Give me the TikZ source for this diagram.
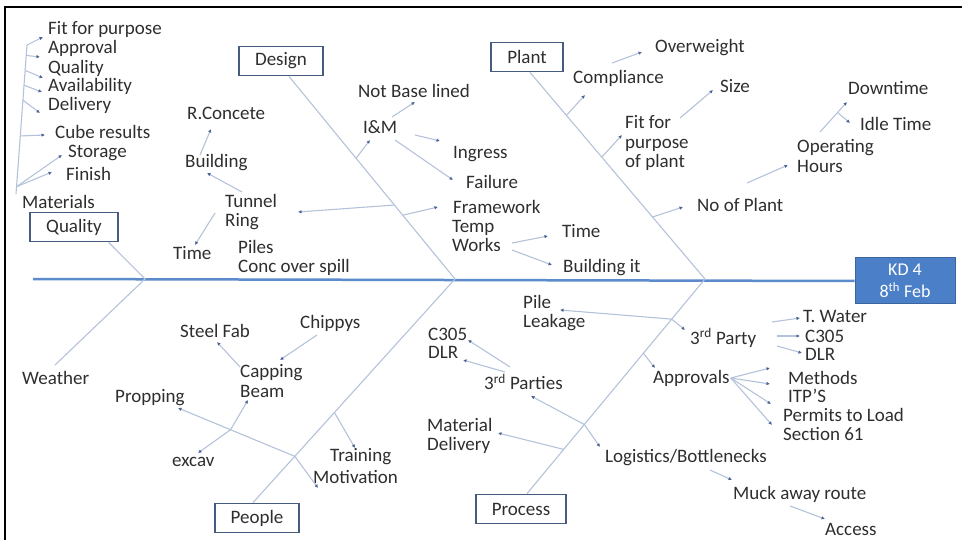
\documentclass[tikz,border=0pt]{standalone}
\usepackage{fontspec}
\setmainfont{Carlito}
\usetikzlibrary{arrows.meta}

\definecolor{bonecol}{HTML}{B4C2DA}
\definecolor{spinecol}{HTML}{5B8BCB}
\definecolor{boxcol}{HTML}{455C80}
\definecolor{tipcol}{HTML}{4A6296}
\definecolor{kdcol}{HTML}{4B7FC7}
\definecolor{txtcol}{HTML}{2E2E2E}

\tikzset{
  lbl/.style={anchor=west, text=txtcol, inner sep=1pt, font=\fontsize{19}{19.5}\selectfont},
  multi/.style={lbl, align=left},
  cat/.style={lbl, anchor=center, draw=boxcol, line width=1.8pt, inner xsep=16pt, minimum height=29pt},
  kdbox/.style={lbl, anchor=center, align=center, text=white, fill=kdcol, draw=kdcol!80!black,
    line width=1pt, minimum width=100pt, minimum height=46pt, font=\fontsize{18}{22}\selectfont},
  bone/.style={draw=bonecol, line width=1.1pt},
  sub/.style={bone, -{Latex[length=3.5pt, width=3.5pt, color=tipcol]}},
  spine/.style={draw=spinecol, line width=2.5pt},
}

\begin{document}
\begin{tikzpicture}[x=1pt, y=-1pt]
\useasboundingbox (0,0) rectangle (962,540);
\draw[line width=2pt] (5,540) -- (5,7) -- (962,7);

% head and spine
\node[kdbox] (kd) at (905,281) {KD 4\\8\textsuperscript{th} Feb};
\coordinate (q0) at (145,279);
\coordinate (d0) at (455,279);
\coordinate (p0) at (705,279);
\draw[spine] (33,279) -- (kd.west);

% Quality
\node[cat] (quality) at (74,227) {Quality};
\node[lbl] (weather) at (21,378) {Weather};
\node[lbl] (mat) at (21,202) {Materials};
\node[lbl] (fitp) at (47,29) {Fit for purpose};
\node[lbl] (appr) at (47,48) {Approval};
\node[lbl] (qlty) at (47,68) {Quality};
\node[lbl] (avail) at (47,86) {Availability};
\node[lbl] (deliv) at (47,105) {Delivery};
\node[lbl] (cube) at (54,132) {Cube results};
\node[lbl] (stor) at (67,153) {Storage};
\node[lbl] (fin) at (65,174) {Finish};

\draw[bone] ([xshift=-10pt]quality.south east) -- (q0) -- ([shift={(34,-13)}]weather.west);
\draw[bone] ([xshift=-5pt]mat.north west) coordinate (mt0) -- (27,45) coordinate (mt1)
  coordinate[pos=0.93] (mq1) coordinate[pos=0.83] (mq2) coordinate[pos=0.73] (mq3)
  coordinate[pos=0.63] (mq4) coordinate[pos=0.39] (mq5) coordinate[pos=0.05] (mq6);
\draw[sub] (mt1) -- ([shift={(-4,8)}]fitp.west);
\draw[sub] (mq1) -- ([shift={(-7,9)}]appr.west);
\draw[sub] (mq2) -- ([shift={(-4,10)}]qlty.west);
\draw[sub] (mq3) -- ([shift={(-5,6)}]avail.west);
\draw[sub] (mq4) -- ([shift={(-7,8)}]deliv.west);
\draw[sub] (mq5) -- ([shift={(-9,3)}]cube.west);
\draw[sub] (mq6) -- ([shift={(-5,2)}]stor.west);
\draw[sub] (mq6) -- ([shift={(-13,-2)}]fin.west);

% Design
\node[cat] (design) at (281,61) {Design};
\node[lbl] (im) at (362,127) {I\&M};
\node[lbl] (nbl) at (357,91) {Not Base lined};
\node[lbl] (ingr) at (452,154) {Ingress};
\node[lbl] (fail) at (465,182) {Failure};
\node[lbl] (frame) at (452,207) {Framework};
\node[multi] (tw) at (451,236) {Temp\\Works};
\node[lbl] (time2) at (561,231) {Time};
\node[lbl] (bit) at (562,268) {Building it};
\node[multi] (tun) at (224,212) {Tunnel\\Ring};
\node[lbl] (bldg) at (184,163) {Building};
\node[lbl] (rc) at (186,113) {R.Concete};
\node[lbl] (time1) at (172,253) {Time};
\node[multi] (piles) at (237,258) {Piles\\Conc over spill};

\draw[bone] ([xshift=8pt]design.south) -- (d0)
  coordinate[pos=0.404] (dim) coordinate[pos=0.635] (dtun) coordinate[pos=0.685] (dfw);
\draw[sub] (dim) -- ([shift={(8,13)}]im.west);
\draw[sub] ([shift={(30,-10)}]im.west) -- ([shift={(58,11)}]nbl.west);
\draw[sub] ([shift={(53,8)}]im.west) -- ([shift={(-12,-13)}]ingr.west);
\draw[sub] ([shift={(33,13)}]im.west) -- ([shift={(-12,-2)}]fail.west);
\draw[sub] (dtun) -- ([shift={(74,0)}]tun.west);
\draw[sub] (dfw) -- ([shift={(-14,0)}]frame.west);
\draw[sub] ([shift={(18,-20)}]tun.west) -- ([shift={(23,10)}]bldg.west);
\draw[sub] ([shift={(16,-8)}]bldg.west) -- ([shift={(25,16)}]rc.west);
\draw[sub] ([shift={(-9,1)}]tun.west) -- ([shift={(23,-8)}]time1.west);
\draw[sub] ([shift={(61,7)}]tw.west) -- ([shift={(-13,5)}]time2.west);
\draw[sub] ([shift={(61,14)}]tw.west) -- ([shift={(-10,-3)}]bit.west);

% Plant
\node[cat] (plant) at (527,57) {Plant};
\node[lbl] (comp) at (572,78) {Compliance};
\node[lbl] (ow) at (654,48) {Overweight};
\node[multi] (ffp) at (624,143) {Fit for\\purpose\\of plant};
\node[lbl] (size) at (719,86) {Size};
\node[lbl] (nop) at (696,205) {No of Plant};
\node[multi] (oh) at (796,156) {Operating\\Hours};
\node[lbl] (dt) at (847,88) {Downtime};
\node[lbl] (idle) at (859,124) {Idle Time};

\draw[bone] ([xshift=3pt]plant.south) -- (p0)
  coordinate[pos=0.208] (pcomp) coordinate[pos=0.41] (pfit) coordinate[pos=0.70] (pnop);
\draw[sub] (pcomp) -- ([shift={(13,17)}]comp.west);
\draw[sub] ([shift={(40,-15)}]comp.west) -- ([shift={(-12,4)}]ow.west);
\draw[sub] (pfit) -- ([shift={(-2,-8)}]ffp.west);
\draw[sub] ([shift={(56,-25)}]ffp.west) -- ([shift={(-6,4)}]size.west);
\draw[sub] (pnop) -- ([shift={(-13,2)}]nop.west);
\draw[sub] ([shift={(51,-22)}]nop.west) -- ([shift={(-8,9)}]oh.west);
\draw[sub] ([shift={(24,-24)}]oh.west) -- ([shift={(0,14)}]dt.west) coordinate[pos=0.65] (ohs);
\draw[sub] (ohs) -- ([shift={(-9,-1)}]idle.west);

% Process
\node[cat] (process) at (521,509) {Process};
\node[multi] (pile) at (522,313) {Pile\\Leakage};
\node[lbl] (tp) at (689,338) {3\textsuperscript{rd} Party};
\node[lbl] (twat) at (802,316) {T. Water};
\node[lbl] (c305a) at (804,336) {C305};
\node[lbl] (dlra) at (804,354) {DLR};
\node[lbl] (appv) at (652,378) {Approvals};
\node[lbl] (meth) at (787,378) {Methods};
\node[lbl] (itps) at (787,396) {ITP'S};
\node[lbl] (perm) at (782,415) {Permits to Load};
\node[lbl] (sec) at (782,434) {Section 61};
\node[lbl] (tps) at (483,382) {3\textsuperscript{rd} Parties};
\node[lbl] (c305b) at (427,334) {C305};
\node[lbl] (dlrb) at (427,352) {DLR};
\node[multi] (md) at (426,436) {Material\\Delivery};
\node[lbl] (log) at (604,458) {Logistics/Bottlenecks};
\node[lbl] (muck) at (732,494) {Muck away route};
\node[lbl] (acc) at (824,529) {Access};

\draw[bone] ([xshift=6pt]process.north) -- (p0)
  coordinate[pos=0.813] (ppile) coordinate[pos=0.654] (pappr)
  coordinate[pos=0.322] (pcross) coordinate[pos=0.206] (pmd);
\draw[sub] (ppile) -- ([shift={(38,-3)}]pile.west);
\draw[sub] (ppile) -- ([shift={(-4,-8)}]tp.west);
\draw[sub] ([shift={(83,-16)}]tp.west) -- ([shift={(-2,2)}]twat.west);
\draw[sub] ([shift={(88,-2)}]tp.west) -- ([shift={(-4,0)}]c305a.west);
\draw[sub] ([shift={(88,8)}]tp.west) -- ([shift={(-2,-1)}]dlra.west);
\draw[sub] (pappr) -- ([shift={(3,-10)}]appv.west);
\draw[sub] (appv.east) -- ([shift={(-17,-10)}]meth.west);
\draw[sub] (appv.east) -- ([shift={(-17,-12)}]itps.west);
\draw[sub] (appv.east) -- ([shift={(-11,-11)}]perm.west);
\draw[sub] (appv.east) -- ([shift={(-10,-9)}]sec.west);
\draw[sub] (pcross) -- ([shift={(48,14)}]tps.west);
\draw[sub] (pcross) -- ([shift={(-4,-11)}]log.west);
\draw[sub] ([shift={(27,-15)}]tps.west) -- ([shift={(41,6)}]c305b.west);
\draw[sub] ([shift={(22,-10)}]tps.west) -- ([shift={(36,8)}]dlrb.west);
\draw[sub] (pmd) -- ([shift={(72,-3)}]md.west);
\draw[sub] ([shift={(106,12)}]log.west) -- ([shift={(0,-14)}]muck.west);
\draw[sub] ([shift={(58,12)}]muck.west) -- ([shift={(1,-10)}]acc.west);

% People
\node[cat] (people) at (257,518) {People};
\node[lbl] (prop) at (114,398) {Propping};
\node[lbl] (mot) at (312,477) {Motivation};
\node[lbl] (train) at (329,457) {Training};
\node[lbl] (excav) at (171,462) {excav};
\node[multi] (cb) at (239,381) {Capping\\Beam};
\node[lbl] (sf) at (179,331) {Steel Fab};
\node[lbl] (chip) at (299,323) {Chippys};

\draw[bone] ([xshift=-4pt]people.north) -- (d0)
  coordinate[pos=0.403] (ptrain) coordinate[pos=0.207] (pmot);
\draw[sub] (ptrain) -- ([shift={(26,-9)}]train.west);
\draw[sub] (pmot) -- ([shift={(64,10)}]prop.west) coordinate[pos=0.55] (px);
\draw[sub] (pmot) -- ([shift={(6,11)}]mot.west);
\draw[sub] (px) -- ([shift={(27,-9)}]excav.west);
\draw[sub] (px) -- ([shift={(9,19)}]cb.west);
\draw[sub] ([shift={(1,-14)}]cb.west) -- ([shift={(38,11)}]sf.west);
\draw[sub] ([shift={(18,12)}]chip.west) -- ([shift={(41,-21)}]cb.west);
\end{tikzpicture}
\end{document}
